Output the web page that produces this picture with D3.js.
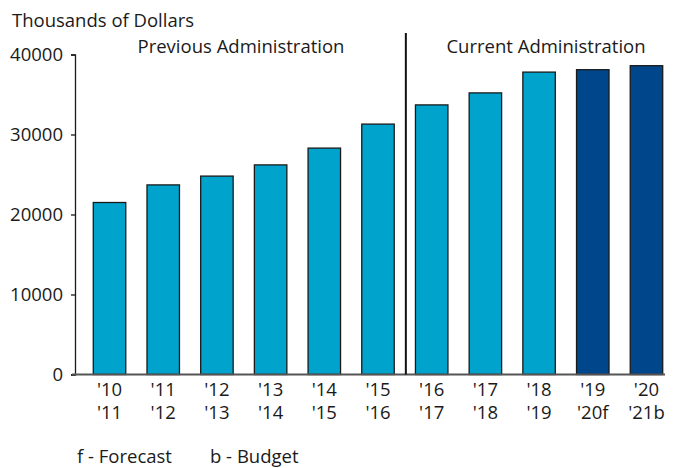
<!DOCTYPE html>
<html>
<head>
<meta charset="utf-8">
<script src="https://cdn.jsdelivr.net/npm/d3@7"></script>
<style>
  html, body { margin: 0; padding: 0; background: #fff; }
  svg text { font-family: "Open Sans", Lato, sans-serif; fill: #1a1a1a; }
</style>
</head>
<body>
<svg id="chart" width="678" height="468"></svg>
<script>
// Fiscal years (two-line labels)
const yearTop = ["'10", "'11", "'12", "'13", "'14", "'15", "'16", "'17", "'18", "'19", "'20"];
const yearBottom = ["'11", "'12", "'13", "'14", "'15", "'16", "'17", "'18", "'19", "'20f", "'21b"];
// Spending, thousands of dollars
const values = [21500, 23700, 24800, 26200, 28300, 31300, 33700, 35200, 37800, 38100, 38600];
// a = actual, f = forecast, b = budget
const status = ["a", "a", "a", "a", "a", "a", "a", "a", "a", "f", "b"];
const yTicks = [0, 10000, 20000, 30000, 40000];

const svg = d3.select("#chart");
const fs = 18.5;

const x = d3.scaleBand()
  .domain(d3.range(values.length))
  .range([76, 680])
  .paddingInner(0.395)
  .paddingOuter(0.322);

const y = d3.scaleLinear().domain([0, 40000]).range([374.5, 54.5]);

// Y axis
const yAxis = svg.append("g")
  .attr("transform", "translate(75,0)")
  .call(d3.axisLeft(y).tickValues(yTicks).tickSize(4).tickPadding(8).tickFormat(d3.format("d")));
yAxis.select(".domain").attr("stroke", "#1a1a1a").attr("stroke-width", 1.3);
yAxis.selectAll(".tick line").attr("stroke", "#1a1a1a").attr("stroke-width", 1.3);
yAxis.selectAll(".tick text").attr("font-size", fs).attr("font-family", null);

// Bars
const fill = { a: "#00a3cc", f: "#00468a", b: "#00468a" };
svg.append("g").selectAll("rect")
  .data(values)
  .join("rect")
  .attr("x", (d, i) => x(i))
  .attr("y", d => y(d))
  .attr("width", x.bandwidth())
  .attr("height", d => y(0) - y(d))
  .attr("fill", (d, i) => fill[status[i]])
  .attr("stroke", "#1a1a1a")
  .attr("stroke-width", 1.3);

// Baseline
svg.append("line")
  .attr("x1", 72).attr("x2", 665)
  .attr("y1", y(0)).attr("y2", y(0))
  .attr("stroke", "#555").attr("stroke-width", 2);

// X labels: fiscal year start / end on two lines
const xl = svg.append("g").selectAll("text").data(yearTop).join("text")
  .attr("text-anchor", "middle")
  .attr("font-size", fs)
  .attr("transform", (d, i) => `translate(${x(i) + x.bandwidth() / 2},395.5)`);
xl.append("tspan").attr("x", 0).attr("y", 0).text(d => d);
xl.append("tspan").attr("x", 0).attr("y", 23.5).text((d, i) => yearBottom[i]);

// Administration divider
const divX = (x(5) + x.bandwidth() + x(6)) / 2 + 1;
svg.append("line")
  .attr("x1", divX).attr("x2", divX)
  .attr("y1", 33).attr("y2", y(0))
  .attr("stroke", "#111").attr("stroke-width", 2);

svg.append("text").attr("x", 241).attr("y", 53).attr("text-anchor", "middle")
  .attr("font-size", fs).text("Previous Administration");
svg.append("text").attr("x", 546).attr("y", 53).attr("text-anchor", "middle")
  .attr("font-size", fs).text("Current Administration");

// Units
svg.append("text").attr("x", 12).attr("y", 26.5).attr("font-size", fs).text("Thousands of Dollars");

// Footnote
svg.append("text").attr("x", 77).attr("y", 462.5).attr("font-size", fs).text("f - Forecast");
svg.append("text").attr("x", 210).attr("y", 462.5).attr("font-size", fs).text("b - Budget");
</script>
</body>
</html>
